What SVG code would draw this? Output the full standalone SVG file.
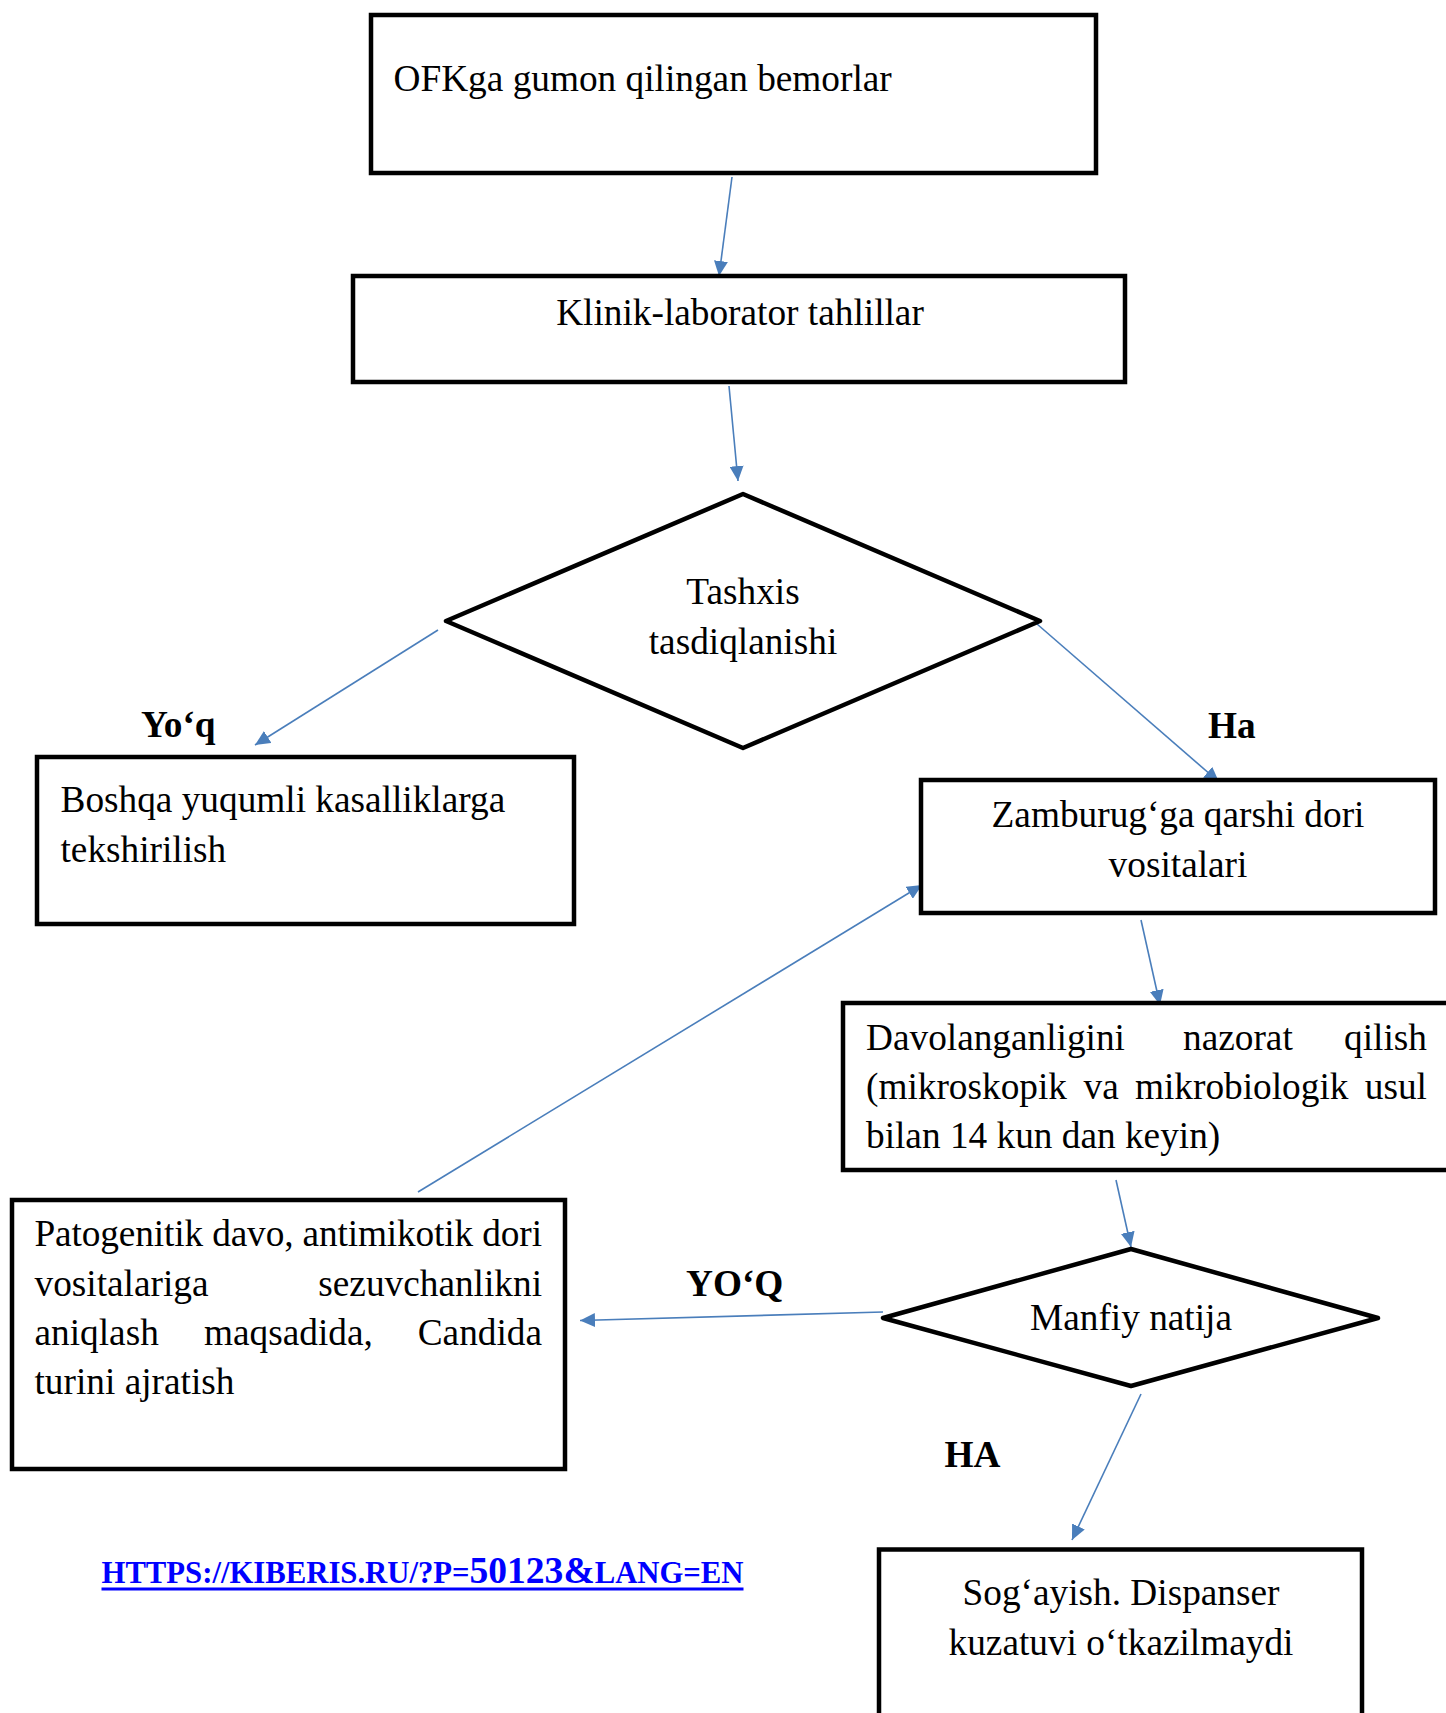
<svg xmlns="http://www.w3.org/2000/svg" width="1446" height="1713" viewBox="0 0 1446 1713">
<style>
.box{fill:#fff;stroke:#000;stroke-width:4.5}
.dia{fill:#fff;stroke:#000;stroke-width:4.5;stroke-linejoin:round}
.t{font-family:"Liberation Serif","Times New Roman",serif;font-size:37.3px;fill:#000}
.c{text-anchor:middle}
.e{text-anchor:end}
.lbl{font-family:"Liberation Serif","Times New Roman",serif;font-size:37.3px;font-weight:bold;fill:#000}
.con{stroke:#4A7EBB;stroke-width:1.6;fill:none;marker-end:url(#arr)}
.url{font-family:"Liberation Serif","Times New Roman",serif;font-weight:bold;fill:#0000FF}
</style>
<defs>
<marker id="arr" markerUnits="userSpaceOnUse" markerWidth="16" markerHeight="14" refX="15" refY="7" orient="auto">
<path d="M0,0 L15,7 L0,14 z" fill="#4A7EBB"/>
</marker>
</defs>
<rect width="1446" height="1713" fill="#fff"/>
<g id="connectors">
<line class="con" x1="732" y1="177" x2="719" y2="276"/>
<line class="con" x1="729" y1="386" x2="738" y2="481"/>
<line class="con" x1="438" y1="630" x2="255" y2="745"/>
<line class="con" x1="1037" y1="624" x2="1219" y2="782"/>
<line class="con" x1="1141" y1="920" x2="1160" y2="1005"/>
<line class="con" x1="418" y1="1192" x2="922" y2="885"/>
<line class="con" x1="1116" y1="1180" x2="1131" y2="1247"/>
<line class="con" x1="883" y1="1312" x2="580" y2="1320.5"/>
<line class="con" x1="1141" y1="1394" x2="1072" y2="1540"/>
</g>
<g id="n1">
<rect class="box" x="371" y="15" width="725" height="158"/>
<text class="t" x="393.5" y="91">OFKga gumon qilingan bemorlar</text>
</g>
<g id="n2">
<rect class="box" x="353" y="276" width="772" height="106"/>
<text class="t c" x="740" y="325">Klinik-laborator tahlillar</text>
</g>
<g id="n3">
<polygon class="dia" points="743,494 446,621 743,748 1040,621"/>
<text class="t c" x="743" y="604">Tashxis</text>
<text class="t c" x="743" y="654">tasdiqlanishi</text>
</g>
<g id="lbl-yoq">
<text class="lbl" x="141" y="737">Yo‘q</text>
</g>
<g id="lbl-ha">
<text class="lbl" x="1208" y="738">Ha</text>
</g>
<g id="n4">
<rect class="box" x="37" y="757" width="537" height="167"/>
<text class="t" x="60.5" y="812">Boshqa yuqumli kasalliklarga</text>
<text class="t" x="60.5" y="862">tekshirilish</text>
</g>
<g id="n5">
<rect class="box" x="921" y="780" width="514" height="133"/>
<text class="t c" x="1178" y="827">Zamburug‘ga qarshi dori</text>
<text class="t c" x="1178" y="877">vositalari</text>
</g>
<g id="n6">
<rect class="box" x="843" y="1003" width="620" height="167"/>
<text class="t" y="1050"><tspan x="866">Davolanganligini</tspan><tspan x="1183">nazorat</tspan></text>
<text class="t e" x="1427" y="1050">qilish</text>
<text class="t" y="1099"><tspan x="866">(mikroskopik</tspan><tspan x="1083.5">va</tspan><tspan x="1135">mikrobiologik</tspan></text>
<text class="t e" x="1427" y="1099">usul</text>
<text class="t" x="866" y="1148">bilan 14 kun dan keyin)</text>
</g>
<g id="n7">
<rect class="box" x="12" y="1200" width="553" height="269"/>
<text class="t" x="34.5" y="1246" textLength="507.5" lengthAdjust="spacing">Patogenitik davo, antimikotik dori</text>
<text class="t" x="34.5" y="1296">vositalariga</text>
<text class="t e" x="542" y="1296">sezuvchanlikni</text>
<text class="t" y="1344.5"><tspan x="34.5">aniqlash</tspan><tspan x="204">maqsadida,</tspan></text>
<text class="t e" x="542" y="1344.5">Candida</text>
<text class="t" x="34.5" y="1394">turini ajratish</text>
</g>
<g id="n8">
<polygon class="dia" points="1131,1249 883,1318 1131,1386 1378,1318"/>
<text class="t c" x="1131" y="1330">Manfiy natija</text>
</g>
<g id="lbl-yoq2">
<text class="lbl" x="686" y="1295.5">YO‘Q</text>
</g>
<g id="lbl-ha2">
<text class="lbl" x="944.5" y="1467">HA</text>
</g>
<g id="n9">
<rect class="box" x="879" y="1549.5" width="483" height="190"/>
<text class="t c" x="1121" y="1605">Sog‘ayish. Dispanser</text>
<text class="t c" x="1121" y="1654.5">kuzatuvi o‘tkazilmaydi</text>
</g>
<g id="url">
<text class="url" x="101.5" y="1583" textLength="642" lengthAdjust="spacingAndGlyphs"><tspan font-size="30.5">HTTPS://KIBERIS.RU/?P=</tspan><tspan font-size="37.3">50123&amp;</tspan><tspan font-size="30.5">LANG=EN</tspan></text>
<line x1="101.5" y1="1589" x2="743.5" y2="1589" stroke="#0000FF" stroke-width="3"/>
</g>
</svg>
